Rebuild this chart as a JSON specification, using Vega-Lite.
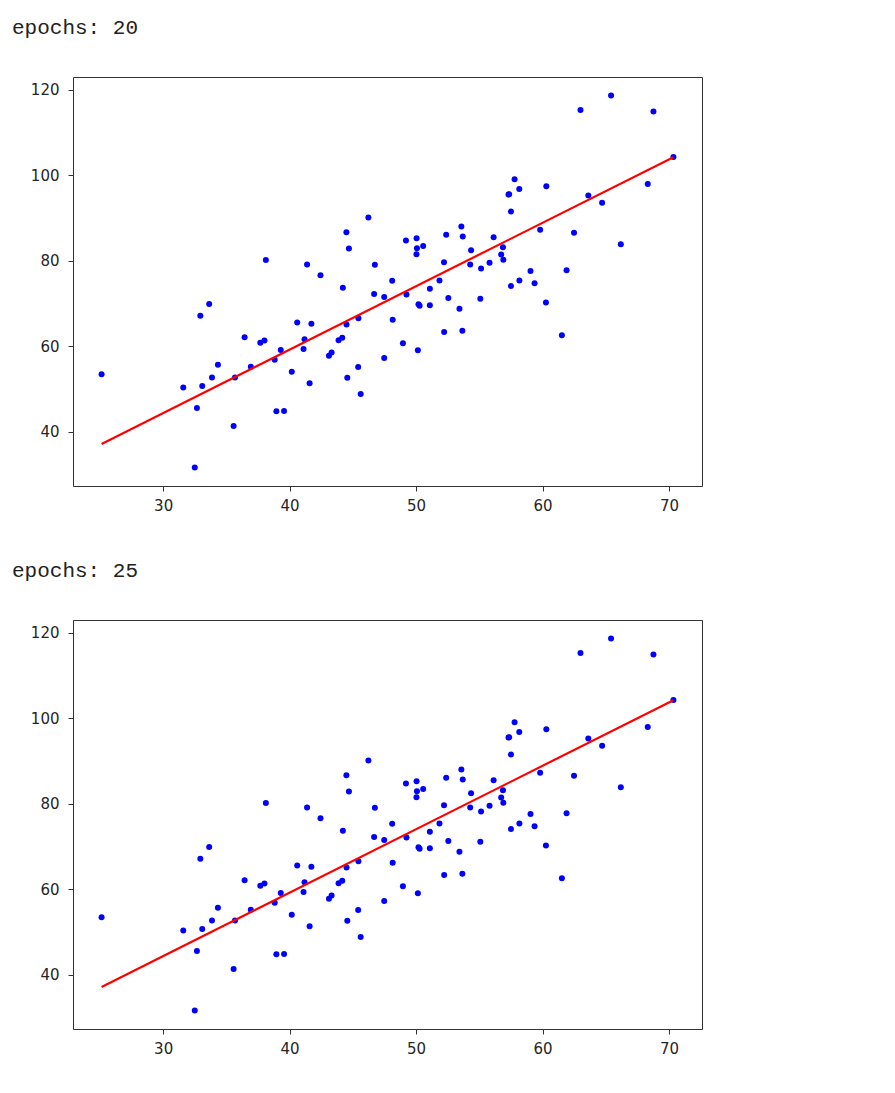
{
  "$schema": "https://vega.github.io/schema/vega-lite/v6.json",
  "padding": {"left": 11, "top": 16, "right": 5, "bottom": 5},
  "background": "white",
  "datasets": {
    "pts": [
      {"x": 32.50, "y": 31.71}, {"x": 53.43, "y": 68.78}, {"x": 61.53, "y": 62.56}, {"x": 47.48, "y": 71.55},
      {"x": 59.81, "y": 87.23}, {"x": 55.14, "y": 78.21}, {"x": 52.21, "y": 79.64}, {"x": 39.30, "y": 59.17},
      {"x": 48.11, "y": 75.33}, {"x": 52.55, "y": 71.30}, {"x": 45.42, "y": 55.17}, {"x": 54.35, "y": 82.48},
      {"x": 44.16, "y": 62.01}, {"x": 58.17, "y": 75.39}, {"x": 56.73, "y": 81.44}, {"x": 48.96, "y": 60.72},
      {"x": 44.69, "y": 82.89}, {"x": 60.30, "y": 97.38}, {"x": 45.62, "y": 48.85}, {"x": 38.82, "y": 56.88},
      {"x": 66.19, "y": 83.88}, {"x": 65.42, "y": 118.59}, {"x": 47.48, "y": 57.25}, {"x": 41.58, "y": 51.39},
      {"x": 51.85, "y": 75.38}, {"x": 59.37, "y": 74.77}, {"x": 57.31, "y": 95.46}, {"x": 63.62, "y": 95.23},
      {"x": 46.74, "y": 79.05}, {"x": 50.56, "y": 83.43}, {"x": 52.22, "y": 63.36}, {"x": 35.57, "y": 41.41},
      {"x": 42.44, "y": 76.62}, {"x": 58.16, "y": 96.77}, {"x": 57.50, "y": 74.08}, {"x": 45.44, "y": 66.59},
      {"x": 61.90, "y": 77.77}, {"x": 33.09, "y": 50.72}, {"x": 36.44, "y": 62.12}, {"x": 37.68, "y": 60.81},
      {"x": 44.56, "y": 52.68}, {"x": 43.32, "y": 58.57}, {"x": 50.07, "y": 82.91}, {"x": 43.87, "y": 61.42},
      {"x": 63.00, "y": 115.24}, {"x": 32.67, "y": 45.57}, {"x": 40.17, "y": 54.08}, {"x": 53.58, "y": 87.99},
      {"x": 33.86, "y": 52.73}, {"x": 64.71, "y": 93.58}, {"x": 38.12, "y": 80.17}, {"x": 44.50, "y": 65.10},
      {"x": 40.60, "y": 65.56}, {"x": 41.72, "y": 65.28}, {"x": 51.09, "y": 73.43}, {"x": 55.08, "y": 71.14},
      {"x": 41.38, "y": 79.10}, {"x": 62.49, "y": 86.52}, {"x": 49.20, "y": 84.74}, {"x": 41.10, "y": 59.36},
      {"x": 41.18, "y": 61.68}, {"x": 50.19, "y": 69.85}, {"x": 52.38, "y": 86.10}, {"x": 50.14, "y": 59.11},
      {"x": 33.64, "y": 69.90}, {"x": 39.56, "y": 44.86}, {"x": 56.13, "y": 85.50}, {"x": 57.36, "y": 95.54},
      {"x": 60.27, "y": 70.25}, {"x": 35.68, "y": 52.72}, {"x": 31.59, "y": 50.39}, {"x": 53.66, "y": 63.64},
      {"x": 46.68, "y": 72.25}, {"x": 43.11, "y": 57.81}, {"x": 70.35, "y": 104.26}, {"x": 44.49, "y": 86.64},
      {"x": 57.50, "y": 91.49}, {"x": 36.93, "y": 55.23}, {"x": 55.81, "y": 79.55}, {"x": 38.95, "y": 44.85},
      {"x": 56.90, "y": 80.21}, {"x": 56.87, "y": 83.14}, {"x": 34.33, "y": 55.72}, {"x": 59.05, "y": 77.63},
      {"x": 57.79, "y": 99.05}, {"x": 54.28, "y": 79.12}, {"x": 51.09, "y": 69.59}, {"x": 50.28, "y": 69.51},
      {"x": 44.21, "y": 73.69}, {"x": 38.01, "y": 61.37}, {"x": 32.94, "y": 67.17}, {"x": 53.69, "y": 85.67},
      {"x": 68.77, "y": 114.85}, {"x": 46.23, "y": 90.12}, {"x": 68.32, "y": 97.92}, {"x": 50.03, "y": 81.54},
      {"x": 49.24, "y": 72.11}, {"x": 50.04, "y": 85.23}, {"x": 48.15, "y": 66.22}, {"x": 25.13, "y": 53.45}
    ],
    "fit20": [{"x": 25.13, "y": 37.2}, {"x": 70.35, "y": 104.2}],
    "fit25": [{"x": 25.13, "y": 37.2}, {"x": 70.35, "y": 104.2}]
  },
  "config": {
    "view": {"stroke": "#333333", "strokeWidth": 1},
    "axis": {
      "grid": false, "domain": false, "title": null,
      "labelFont": "DejaVu Sans", "labelFontSize": 15, "labelColor": "#262626",
      "tickColor": "#333333", "tickSize": 5
    },
    "axisX": {"labelPadding": 7},
    "axisY": {"labelPadding": 9},
    "title": {
      "font": "Liberation Mono", "fontSize": 21, "fontWeight": "normal", "color": "#222222",
      "anchor": "start", "frame": "group", "dx": -61, "offset": 39
    }
  },
  "spacing": 45,
  "vconcat": [
    {
      "title": "epochs: 20",
      "width": 629, "height": 409,
      "layer": [
        {
          "data": {"name": "pts"},
          "mark": {"type": "point", "filled": true, "size": 36, "color": "#0000ff", "opacity": 1},
          "encoding": {
            "x": {"field": "x", "type": "quantitative", "scale": {"domain": [22.87, 72.61], "nice": false, "zero": false}, "axis": {"values": [30, 40, 50, 60, 70]}},
            "y": {"field": "y", "type": "quantitative", "scale": {"domain": [27.36, 122.94], "nice": false, "zero": false}, "axis": {"values": [40, 60, 80, 100, 120]}}
          }
        },
        {
          "data": {"name": "fit20"},
          "mark": {"type": "line", "color": "#ff0000", "strokeWidth": 2.2},
          "encoding": {
            "x": {"field": "x", "type": "quantitative"},
            "y": {"field": "y", "type": "quantitative"}
          }
        }
      ]
    },
    {
      "title": "epochs: 25",
      "width": 629, "height": 409,
      "layer": [
        {
          "data": {"name": "pts"},
          "mark": {"type": "point", "filled": true, "size": 36, "color": "#0000ff", "opacity": 1},
          "encoding": {
            "x": {"field": "x", "type": "quantitative", "scale": {"domain": [22.87, 72.61], "nice": false, "zero": false}, "axis": {"values": [30, 40, 50, 60, 70]}},
            "y": {"field": "y", "type": "quantitative", "scale": {"domain": [27.36, 122.94], "nice": false, "zero": false}, "axis": {"values": [40, 60, 80, 100, 120]}}
          }
        },
        {
          "data": {"name": "fit25"},
          "mark": {"type": "line", "color": "#ff0000", "strokeWidth": 2.2},
          "encoding": {
            "x": {"field": "x", "type": "quantitative"},
            "y": {"field": "y", "type": "quantitative"}
          }
        }
      ]
    }
  ]
}
